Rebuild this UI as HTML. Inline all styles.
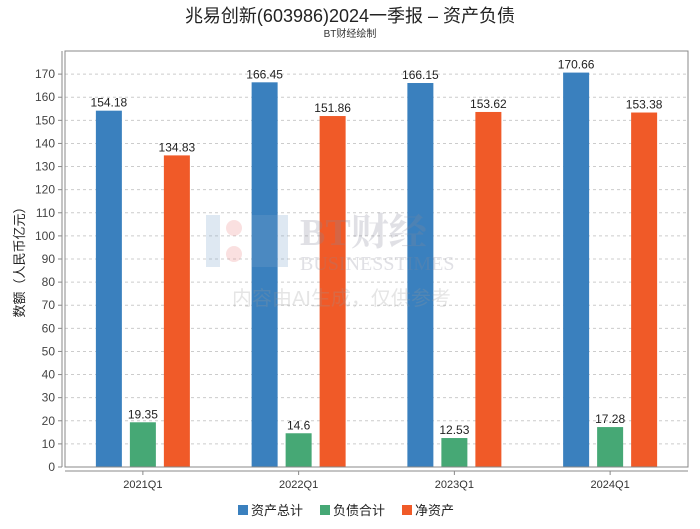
<!DOCTYPE html>
<html><head><meta charset="utf-8"><style>
body{margin:0;background:#fff;font-family:"Liberation Sans","Noto Sans CJK SC",sans-serif;}
</style></head><body>
<svg width="700" height="524" xmlns="http://www.w3.org/2000/svg" font-family="Liberation Sans, Noto Sans CJK SC, sans-serif">
<text x="350" y="22" text-anchor="middle" font-size="18" fill="#222">兆易创新(603986)2024一季报 – 资产负债</text>
<text x="350" y="37" text-anchor="middle" font-size="10" fill="#333">BT财经绘制</text>
<g id="grid"></g><g id="bars"></g><g id="axes"></g>
<g opacity="0.25">
<rect x="206" y="215" width="14" height="52" fill="#7fa6cc"/><rect x="252" y="215" width="36" height="52" fill="#7fa6cc"/>
<circle cx="234" cy="228" r="8" fill="#e88"/><circle cx="234" cy="254" r="8" fill="#e88"/>
<text x="300" y="245" font-size="38" font-weight="bold" fill="#889" font-family="Liberation Serif, Noto Serif CJK SC, serif">BT财经</text>
<text x="300" y="270" font-size="20" fill="#889" font-family="Liberation Serif, serif">BUSINESSTIMES</text>
<text x="232" y="305" font-size="20" fill="#999">内容由AI生成，仅供参考</text>
</g>
<text transform="translate(24,259) rotate(-90)" text-anchor="middle" font-size="13" fill="#222">数额（人民币亿元）</text>
<g font-size="13" fill="#222">
<g><rect x="238" y="505" width="10" height="10" fill="#3a80be"/><text x="251" y="515">资产总计</text></g>
<g><rect x="320" y="505" width="10" height="10" fill="#46a875"/><text x="333" y="515">负债合计</text></g>
<g><rect x="402" y="505" width="10" height="10" fill="#f05a28"/><text x="415" y="515">净资产</text></g>
</g>
</svg>
<script>
const categories=["2021Q1","2022Q1","2023Q1","2024Q1"];
const totalAssets=[154.18,166.45,166.15,170.66];
const totalLiabilities=[19.35,14.6,12.53,17.28];
const netAssets=[134.83,151.86,153.62,153.38];
const yTicks=[0,10,20,30,40,50,60,70,80,90,100,110,120,130,140,150,160,170];
const NS="http://www.w3.org/2000/svg";
const L=65,R=688,T=51,B=467,yMax=180;
const y=v=>B-(v/yMax)*(B-T);
const bw=(R-L)/categories.length;
const xc=i=>L+bw*(i+0.5);
function mk(tag,attrs,parent){const e=document.createElementNS(NS,tag);for(const k in attrs)e.setAttribute(k,attrs[k]);parent.appendChild(e);return e;}
const grid=document.getElementById('grid'),bars=document.getElementById('bars'),axes=document.getElementById('axes');
yTicks.forEach(t=>{
 const g=mk('line',{x1:L,x2:R,y1:y(t),y2:y(t),stroke:'#ccc','stroke-dasharray':'3,3'},grid);
 
 
 const tk=mk('line',{x1:58,x2:62,y1:y(t),y2:y(t),stroke:'#888'},axes);
 
 
 const tl=mk('text',{x:55,y:y(t)+4,'text-anchor':'end','font-size':12,fill:'#444'},axes);
 tl.textContent=t;
 
 
});
const fr=mk('rect',{x:L,y:T,width:R-L,height:B-T,fill:'none',stroke:'#888'},axes);


const ya=mk('line',{x1:62,x2:62,y1:T,y2:B,stroke:'#888'},axes);


const xa=mk('line',{x1:L,x2:R,y1:471,y2:471,stroke:'#888'},axes);


const series=[[totalAssets,'#3a80be',-34,'assets'],[totalLiabilities,'#46a875',0,'liabilities'],[netAssets,'#f05a28',34,'equity']];
categories.forEach((c,i)=>{
 const tk=mk('line',{x1:xc(i),x2:xc(i),y1:471,y2:475,stroke:'#888'},axes);
 
 
 const lb=mk('text',{x:xc(i),y:488,'text-anchor':'middle','font-size':11,fill:'#333'},axes);
 lb.textContent=c;
 
 
 series.forEach(([vals,col,off,nm])=>{
  const v=vals[i];
  const r=mk('rect',{x:xc(i)+off-13,y:y(v),width:26,height:B-y(v),fill:col},bars);
  
  
  const t=mk('text',{x:xc(i)+off,y:y(v)-4,'text-anchor':'middle','font-size':12,fill:'#222'},bars);
  t.textContent=v;
  
  
 });
});
</script>
</body></html>
